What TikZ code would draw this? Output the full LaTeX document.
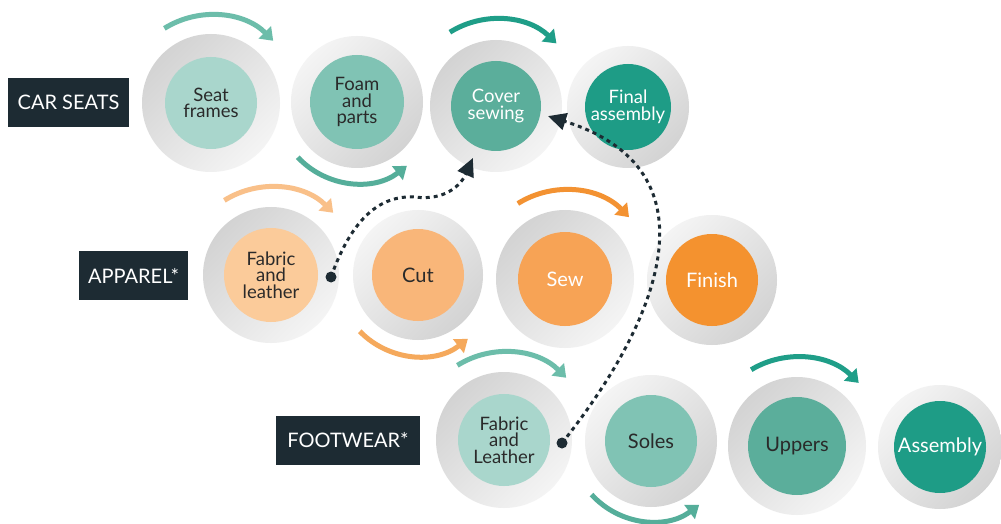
\documentclass[tikz,border=0pt]{standalone}
\usepackage{fontspec}
\setmainfont{Lato}
\usetikzlibrary{arrows.meta,calc}
\definecolor{navy}{HTML}{1D2B33}
\definecolor{textdark}{HTML}{2A2A2A}
\definecolor{ringdark}{HTML}{D3D3D3}
\definecolor{ringlight}{HTML}{F4F4F4}
\definecolor{tealA}{HTML}{A9D6CC}
\definecolor{tealB}{HTML}{80C3B4}
\definecolor{tealC}{HTML}{5BAE9B}
\definecolor{tealD}{HTML}{1E9C86}
\definecolor{orA}{HTML}{FBCB9A}
\definecolor{orB}{HTML}{F9B679}
\definecolor{orC}{HTML}{F7A355}
\definecolor{orD}{HTML}{F4922F}
\definecolor{arcT1}{HTML}{6CBDAA}
\definecolor{arcT2}{HTML}{55AE9A}
\definecolor{arcT3}{HTML}{1F9E88}
\definecolor{arcO1}{HTML}{F9C089}
\definecolor{arcO2}{HTML}{F5A95C}
\definecolor{arcO3}{HTML}{F39232}
\tikzset{
  ringA/.style={circle, draw=none, inner sep=0pt, top color=ringdark, bottom color=ringlight, shading angle=45},
  ringB/.style={circle, draw=none, inner sep=0pt, top color=ringlight, bottom color=ringdark, shading angle=45},
  stage/.style={circle, draw=none, inner sep=0pt, align=center, text=textdark, font=\fontsize{18.5}{16.5}\selectfont},
  stageone/.style={font=\fontsize{20}{20}\selectfont},
  stagewhite/.style={stage, text=white},
  catbox/.style={fill=navy, text=white, minimum height=49pt, inner sep=0pt, font=\fontsize{20}{20}\selectfont},
  flow/.style={line width=5pt, -{Triangle[length=12pt,width=17pt]}},
  link/.style={draw=navy, line width=3pt, dash pattern=on 4pt off 4pt, -{Triangle[length=18pt,width=17pt]}},
  srcdot/.style={circle, fill=navy, inner sep=0pt, minimum size=11pt},
}
\begin{document}
\begin{tikzpicture}[x=1pt,y=1pt]
\useasboundingbox (0,0) rectangle (1001,523);
\fill[white] (0,0) rectangle (1001,523);

% ---- category labels
\node[catbox, minimum width=121pt] (carseats) at (68.5,420.5) {CAR SEATS};
\node[catbox, minimum width=109pt] (apparel) at (133.5,247.5) {APPAREL*};
\node[catbox, minimum width=144pt] (footwear) at (348,82.5) {FOOTWEAR*};

% ---- row 1: car seats
\node[ringA, minimum size=138pt] (SFo) at (211,420) {};
\node[ringB, minimum size=132pt] (FPo) at (357,421) {};
\node[ringA, minimum size=132pt] (CSo) at (496,417) {};
\node[ringB, minimum size=122pt] (FAo) at (628,416) {};
\node[stage, fill=tealA, minimum size=92pt] (SF) at (SFo) {Seat\\frames};
\node[stage, fill=tealB, minimum size=94pt] (FP) at (FPo) {Foam\\and\\parts};
\node[stagewhite, fill=tealC, minimum size=90pt] (CS) at (CSo) {Cover\\sewing};
\node[stagewhite, fill=tealD, minimum size=86pt] (FA) at (FAo) {Final\\assembly};

% ---- row 2: apparel
\node[ringA, minimum size=136pt] (ALo) at (271,248) {};
\node[ringB, minimum size=130pt] (CUo) at (418,248) {};
\node[ringA, minimum size=138pt] (SEo) at (565,244) {};
\node[ringB, minimum size=130pt] (FIo) at (712,243) {};
\node[stage, fill=orA, minimum size=94pt] (AL) at (ALo) {Fabric\\and\\leather};
\node[stage, stageone, fill=orB, minimum size=92pt] (CU) at (CUo) {Cut};
\node[stagewhite, stageone, fill=orC, minimum size=94pt] (SE) at (SEo) {Sew};
\node[stagewhite, stageone, fill=orD, minimum size=92pt] (FI) at (FIo) {Finish};

% ---- row 3: footwear
\node[ringA, minimum size=136pt] (FLo) at (504,83) {};
\node[ringB, minimum size=132pt] (SOo) at (651,82) {};
\node[ringA, minimum size=138pt] (UPo) at (797,77) {};
\node[ringB, minimum size=124pt] (ASo) at (940,76) {};
\node[stage, fill=tealA, minimum size=92pt] (FL) at (FLo) {Fabric\\and\\Leather};
\node[stage, stageone, fill=tealB, minimum size=92pt] (SO) at (SOo) {Soles};
\node[stage, stageone, fill=tealC, minimum size=98pt] (UP) at (UPo) {Uppers};
\node[stagewhite, stageone, fill=tealD, minimum size=92pt] (AS) at (ASo) {Assembly};

% ---- flow arcs
\draw[flow, arcT1] ($(SF)+(122:88pt)$) arc[start angle=122, end angle=45, radius=88pt];
\draw[flow, arcT2] ($(FP)+(223:81pt)$) arc[start angle=223, end angle=308, radius=81pt];
\draw[flow, arcT3] ($(CS)+(122:87pt)$) arc[start angle=122, end angle=46, radius=87pt];

\draw[flow, arcO1] ($(AL)+(122:88pt)$) arc[start angle=122, end angle=45, radius=88pt];
\draw[flow, arcO2] ($(CU)+(224:81pt)$) arc[start angle=224, end angle=308, radius=81pt];
\draw[flow, arcO3] ($(SE)+(122:89pt)$) arc[start angle=122, end angle=44, radius=89pt];

\draw[flow, arcT1] ($(FL)+(122:88pt)$) arc[start angle=122, end angle=45, radius=88pt];
\draw[flow, arcT2] ($(SO)+(222:80pt)$) arc[start angle=222, end angle=307, radius=80pt];
\draw[flow, arcT3] ($(UP)+(121:89pt)$) arc[start angle=121, end angle=45, radius=88pt];

% ---- dashed links to cover sewing
\node[srcdot] (d1) at (331,246) {};
\node[srcdot] (d2) at (562,80) {};
\coordinate (cs1) at ($(CS)+(246:57pt)$);
\coordinate (cs2) at ($(CS)+(-11:53pt)$);
\draw[link] (d1.center) .. controls (352,305) and (380,328) .. (415,326)
  .. controls (445,322) and (461,338) .. (cs1);
\draw[link] (d2.center) .. controls (660,203) and (720,353) .. (cs2);
\end{tikzpicture}
\end{document}
